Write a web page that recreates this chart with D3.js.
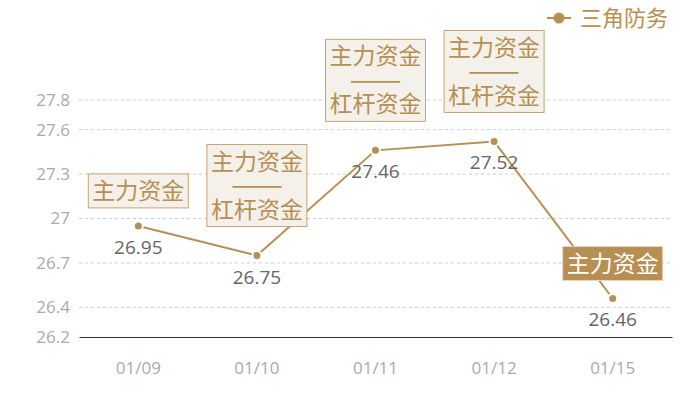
<!DOCTYPE html>
<html>
<head>
<meta charset="utf-8">
<script src="https://cdn.jsdelivr.net/npm/d3@7"></script>
<style>
  body { margin: 0; background: #fff; }
  text { font-family: "Noto Sans CJK SC", "Noto Sans", sans-serif; }
  .num { font-family: "Open Sans", "Noto Sans", sans-serif; }
</style>
</head>
<body>
<div id="chart"></div>
<script>
// data
let dates = ["01/09", "01/10", "01/11", "01/12", "01/15"];
let prices = [26.95, 26.75, 27.46, 27.52, 26.46];
let yTicks = [26.2, 26.4, 26.7, 27, 27.3, 27.6, 27.8];
// annotation per point: lines of text, filled box or not
let notes = [
  ["主力资金"],
  ["主力资金", "——", "杠杆资金"],
  ["主力资金", "——", "杠杆资金"],
  ["主力资金", "——", "杠杆资金"],
  ["主力资金"],
];
let noteFilled = [false, false, false, false, true];
let seriesName = "三角防务";

const gold = "#b78f52";

let margin = { top: 100, right: 28, bottom: 63, left: 79 },
  width = 700 - margin.left - margin.right,
  height = 400 - margin.top - margin.bottom;

let svg = d3
  .select("#chart")
  .append("svg")
  .attr("width", 700)
  .attr("height", 400)
  .append("g")
  .attr("transform", "translate(" + margin.left + "," + margin.top + ")");

let x = d3.scaleBand().domain(dates).range([0, width]);
let y = d3.scaleLinear().domain([26.2, 27.8]).range([height, 0]);
const cx = (d) => x(d) + x.bandwidth() / 2;

// grid lines
svg
  .append("g")
  .selectAll("line")
  .data(yTicks.slice(1))
  .enter()
  .append("line")
  .attr("x1", 0)
  .attr("x2", width)
  .attr("y1", (d) => y(d))
  .attr("y2", (d) => y(d))
  .attr("stroke", "#ccc")
  .attr("stroke-dasharray", "3,3");

// y axis labels
const yAxis = svg
  .append("g")
  .call(d3.axisLeft(y).tickValues(yTicks).tickSize(0).tickPadding(9).tickFormat((d) => d3.format("")(d)));
yAxis.select(".domain").remove();
yAxis.selectAll("text").attr("class", "num").attr("fill", "#aaa").style("font-size", "17px");

// x axis
const xAxis = svg
  .append("g")
  .attr("transform", "translate(0," + height + ")")
  .call(d3.axisBottom(x).tickSize(0).tickPadding(25));
xAxis.select(".domain").attr("stroke", "#333").attr("stroke-width", 1.2);
xAxis.selectAll("text").attr("class", "num").attr("fill", "#aaa").style("font-size", "17px");

// line
const line = d3
  .line()
  .x((d, i) => cx(dates[i]))
  .y((d) => y(d));
svg
  .append("path")
  .datum(prices)
  .attr("d", line)
  .attr("fill", "none")
  .attr("stroke", gold)
  .attr("stroke-width", 2);

// dots
svg
  .append("g")
  .selectAll("circle")
  .data(prices)
  .enter()
  .append("circle")
  .attr("cx", (d, i) => cx(dates[i]))
  .attr("cy", (d) => y(d))
  .attr("r", 4.5)
  .attr("fill", gold)
  .attr("stroke", "#fff")
  .attr("stroke-width", 2);

// value labels
svg
  .append("g")
  .selectAll("text")
  .data(prices)
  .enter()
  .append("text")
  .attr("class", "num")
  .attr("x", (d, i) => cx(dates[i]))
  .attr("y", (d) => y(d) + 28)
  .attr("text-anchor", "middle")
  .attr("fill", "#666")
  .style("font-size", "19px")
  .text((d) => d);

// annotation boxes
const lineH = 24, boxW = 100;
notes.forEach(function (lines, i) {
  const px = cx(dates[i]), py = y(prices[i]);
  const boxH = lines.length * lineH + 10;
  const bottom = py - (lines.length > 1 ? 29 : 18);
  const g = svg.append("g");
  g.append("rect")
    .attr("x", px - boxW / 2)
    .attr("y", bottom - boxH)
    .attr("width", boxW)
    .attr("height", boxH)
    .attr("fill", noteFilled[i] ? gold : "#f4f0ea")
    .attr("stroke", noteFilled[i] ? "#e6d6bd" : "#c6a473")
    .attr("stroke-width", 1);
  g.selectAll("text")
    .data(lines)
    .enter()
    .append("text")
    .attr("x", px)
    .attr("y", (d, j) => bottom - boxH + 5 + lineH * j + lineH / 2)
    .attr("dy", "0.35em")
    .attr("text-anchor", "middle")
    .attr("fill", noteFilled[i] ? "#fff" : gold)
    .style("font-size", (d) => (d === "——" ? "19px" : "23px"))
    .style("font-weight", (d) => (d === "——" ? "bold" : "normal"))
    .each(function (d) {
      // the dash row is stretched to the width of the reference rule
      if (d === "——") {
        d3.select(this).attr("textLength", 52).attr("lengthAdjust", "spacingAndGlyphs");
      }
    })
    .text((d) => d);
});

// legend
const legend = svg.append("g").attr("transform", "translate(" + (547 - margin.left) + "," + (18 - margin.top) + ")");
legend.append("line").attr("x1", 0).attr("x2", 24).attr("stroke", gold).attr("stroke-width", 2);
legend.append("circle").attr("cx", 12).attr("r", 5.5).attr("fill", gold);
legend
  .append("text")
  .attr("x", 33)
  .attr("dy", "0.35em")
  .attr("fill", gold)
  .style("font-size", "22px")
  .text(seriesName);
</script>
</body>
</html>
